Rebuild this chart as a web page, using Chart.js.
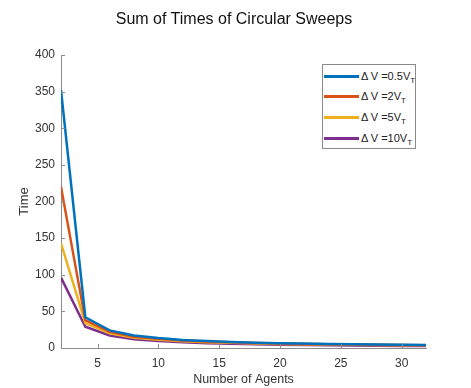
<!DOCTYPE html>
<html>
<head>
<meta charset="utf-8">
<script src="https://cdn.jsdelivr.net/npm/chart.js@4/dist/chart.umd.min.js"></script>
<style>
  html, body { margin: 0; padding: 0; background: #fff; }
  #wrap { position: relative; width: 471px; height: 388px; }
  #title {
    position: absolute; left: 84px; width: 300px; top: 9px; height: 20px; line-height: 20px;
    text-align: center; font-family: "Liberation Sans", Arial, sans-serif; font-size: 16px; color: #111;
  }
  #legend {
    position: absolute; left: 322px; top: 64px; width: 94px; height: 85px;
    border: 1px solid #8a8a8a; background: #fff; box-sizing: border-box;
    font-family: "Liberation Sans", Arial, sans-serif; font-size: 11px; color: #222;
  }
  .row { position: absolute; left: 1px; height: 14px; line-height: 14px; white-space: nowrap; }
  .sw { display: inline-block; width: 35px; height: 3px; vertical-align: middle; margin-right: 2px; position: relative; top: -1px; }
  sub { font-size: 8px; vertical-align: -3px; line-height: 0; }
</style>
</head>
<body>
<div id="wrap">
  <canvas id="c" width="471" height="388"></canvas>
  <div id="title">Sum of Times of Circular Sweeps</div>
  <div id="legend"></div>
</div>
<script>
const agents = [2, 4, 6, 8, 10, 12, 14, 16, 18, 20, 22, 24, 26, 28, 30, 32];
const seriesNames = ["Δ V =0.5V", "Δ V =2V", "Δ V =5V", "Δ V =10V"];
const dv05 = [352, 42, 24, 17, 13.5, 11, 9.5, 8.3, 7.3, 6.6, 6.0, 5.5, 5.0, 4.7, 4.4, 4.1];
const dv2  = [220, 38, 22, 15.5, 12.5, 10.3, 8.8, 7.7, 6.8, 6.1, 5.6, 5.1, 4.7, 4.4, 4.1, 3.9];
const dv5  = [143, 34, 20, 14, 11.3, 9.3, 8.0, 7.0, 6.2, 5.6, 5.1, 4.7, 4.3, 4.0, 3.8, 3.6];
const dv10 = [96, 29, 17, 12, 9.5, 7.8, 6.6, 5.7, 5.0, 4.5, 4.1, 3.7, 3.4, 3.1, 2.9, 2.7];
const xTicks = [5, 10, 15, 20, 25, 30];
const yTicks = [0, 50, 100, 150, 200, 250, 300, 350, 400];
const colors = ["#0072BD", "#D95319", "#EDB120", "#7E2F8E"];

const allSeries = [dv05, dv2, dv5, dv10];
const datasets = allSeries.map((s, i) => ({
  label: seriesNames[i] + "T",
  data: s.map((v, j) => ({ x: agents[j], y: v })),
  borderColor: colors[i],
  backgroundColor: colors[i],
  borderWidth: 2.5,
  pointRadius: 0,
  tension: 0,
  fill: false
}));

const FONT = "'Liberation Sans', Arial, sans-serif";
const axisColor = "#8c8c8c";

const innerTicks = {
  id: 'innerTicks',
  afterDraw(chart) {
    const ctx = chart.ctx, a = chart.chartArea;
    const xs = chart.scales.x, ys = chart.scales.y;
    ctx.save();
    ctx.strokeStyle = axisColor; ctx.lineWidth = 1;
    ctx.beginPath();
    xs.ticks.forEach(t => {
      const px = Math.round(xs.getPixelForValue(t.value)) + 0.5;
      ctx.moveTo(px, a.bottom); ctx.lineTo(px, a.bottom - 4);
    });
    ys.ticks.forEach(t => {
      const py = Math.round(ys.getPixelForValue(t.value)) + 0.5;
      ctx.moveTo(a.left, py); ctx.lineTo(a.left + 4, py);
    });
    ctx.stroke();
    ctx.restore();
  }
};

const chart = new Chart(document.getElementById('c'), {
  type: 'line',
  data: { datasets },
  plugins: [innerTicks],
  options: {
    responsive: false,
    animation: false,
    layout: { padding: { left: 0, right: 45, top: 55, bottom: 0 } },
    plugins: {
      legend: { display: false },
      tooltip: { enabled: false },
      title: { display: false }
    },
    scales: {
      x: {
        type: 'linear', min: 2, max: 32,
        afterBuildTicks: s => { s.ticks = xTicks.map(v => ({ value: v })); },
        afterFit: s => { s.height = 40; },
        grid: { drawOnChartArea: false, drawTicks: false },
        border: { display: true, color: axisColor, width: 1 },
        ticks: { color: '#333', padding: 8, font: { family: FONT, size: 12 }, maxRotation: 0 },
        title: { display: true, text: 'Number of Agents', color: '#333', font: { family: FONT, size: 12.5, lineHeight: 1.2 }, padding: { top: 0, bottom: 1 } }
      },
      y: {
        type: 'linear', min: 0, max: 400,
        afterBuildTicks: s => { s.ticks = yTicks.map(v => ({ value: v })); },
        afterFit: s => { s.width = 61; },
        grid: { drawOnChartArea: false, drawTicks: false },
        border: { display: true, color: axisColor, width: 1 },
        ticks: { color: '#333', padding: 6, font: { family: FONT, size: 12 } },
        title: { display: true, text: 'Time', color: '#333', font: { family: FONT, size: 13, lineHeight: 1.2 }, padding: { top: 17, bottom: 0 } }
      }
    }
  }
});

const legend = document.getElementById('legend');
const rowTops = [4, 24, 45, 66];
seriesNames.forEach((n, i) => {
  const r = document.createElement('div');
  r.className = 'row';
  r.style.top = rowTops[i] + 'px';
  r.innerHTML = '<span class="sw" style="background:' + colors[i] + '"></span>' + n + '<sub>T</sub>';
  legend.appendChild(r);
});
</script>
</body>
</html>
